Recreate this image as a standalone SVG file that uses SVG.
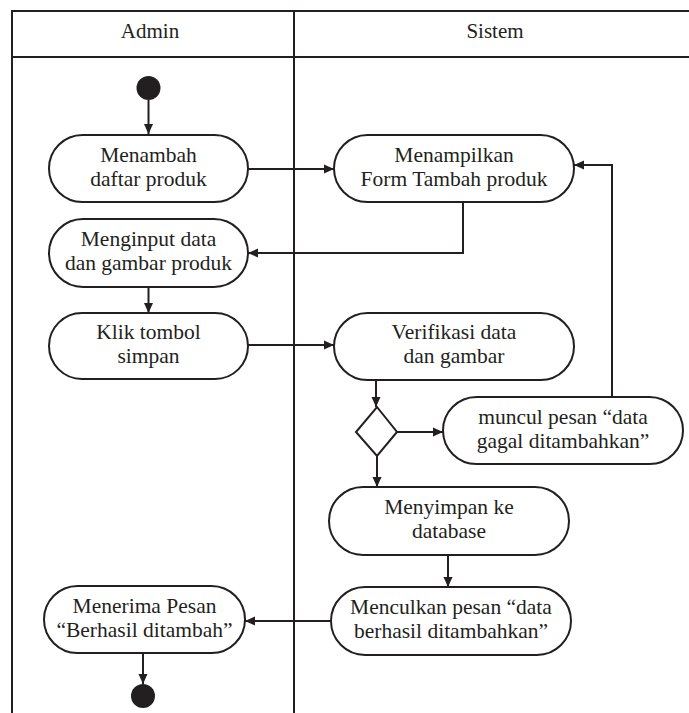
<svg xmlns="http://www.w3.org/2000/svg" width="689" height="713" viewBox="0 0 689 713">
<style>
.frame{fill:none;stroke:#231f20;stroke-width:2}
.act{fill:#fff;stroke:#231f20;stroke-width:2}
.t{font-size:21.5px;fill:#231f20;text-anchor:middle}
.h{font-size:21px;fill:#231f20;text-anchor:middle}
.c{fill:none;stroke:#231f20;stroke-width:2}
.dot{fill:#231f20}
</style>
<defs>
<marker id="ah" viewBox="0 0 10 10" refX="10" refY="5" markerWidth="10" markerHeight="10" markerUnits="userSpaceOnUse" orient="auto">
<path d="M0,0.5 L10,5 L0,9.5 Z" fill="#231f20"/>
</marker>
</defs>
<rect width="689" height="713" fill="#fff"/>
<g font-family="'Liberation Serif', Tinos, 'Times New Roman', Times, 'DejaVu Serif', serif">
<g id="swimlanes">
<path class="frame" d="M12,713 V11 H689 M12,57 H689 M294,11 V713"/>
<text class="h" x="150" y="38">Admin</text>
<text class="h" x="495" y="38">Sistem</text>
</g>
<g id="connectors">
<path class="c" d="M148.5,100 V134" marker-end="url(#ah)"/>
<path class="c" d="M248,169 H334" marker-end="url(#ah)"/>
<path class="c" d="M463,202 V253 H248" marker-end="url(#ah)"/>
<path class="c" d="M148.5,287 V313" marker-end="url(#ah)"/>
<path class="c" d="M248,345 H334" marker-end="url(#ah)"/>
<path class="c" d="M376,380 V407" marker-end="url(#ah)"/>
<path class="c" d="M397,432 H443" marker-end="url(#ah)"/>
<path class="c" d="M612,397 V165 H574" marker-end="url(#ah)"/>
<path class="c" d="M377,456 V487" marker-end="url(#ah)"/>
<path class="c" d="M448,555 V587" marker-end="url(#ah)"/>
<path class="c" d="M331,621 H245" marker-end="url(#ah)"/>
<path class="c" d="M143,653 V684" marker-end="url(#ah)"/>
</g>
<g id="start"><circle class="dot" cx="148.5" cy="88" r="12"/></g>
<g id="n1"><rect class="act" x="49" y="135" width="199" height="67" rx="33.5"/>
<text class="t" x="148.5" y="162">Menambah</text><text class="t" x="148.5" y="186">daftar produk</text></g>
<g id="n2"><rect class="act" x="334" y="135" width="240" height="67" rx="33.5"/>
<text class="t" x="454" y="162">Menampilkan</text><text class="t" x="454" y="186">Form Tambah produk</text></g>
<g id="n3"><rect class="act" x="49" y="219" width="199" height="68" rx="34"/>
<text class="t" x="148.5" y="246">Menginput data</text><text class="t" x="148.5" y="270">dan gambar produk</text></g>
<g id="n4"><rect class="act" x="49" y="313" width="199" height="66" rx="33"/>
<text class="t" x="148.5" y="339">Klik tombol</text><text class="t" x="148.5" y="363">simpan</text></g>
<g id="n5"><rect class="act" x="334" y="313" width="240" height="67" rx="33.5"/>
<text class="t" x="454" y="339">Verifikasi data</text><text class="t" x="454" y="363">dan gambar</text></g>
<g id="decision"><path class="act" d="M377,407 L397,432 L377,456 L356,432 Z"/></g>
<g id="n6"><rect class="act" x="443" y="397" width="240" height="67" rx="33.5"/>
<text class="t" x="563" y="424">muncul pesan “data</text><text class="t" x="563" y="448">gagal ditambahkan”</text></g>
<g id="n7"><rect class="act" x="329" y="487" width="240" height="68" rx="34"/>
<text class="t" x="449" y="514">Menyimpan ke</text><text class="t" x="449" y="538">database</text></g>
<g id="n8"><rect class="act" x="331" y="587" width="240" height="68" rx="34"/>
<text class="t" x="451" y="614">Menculkan pesan “data</text><text class="t" x="451" y="638">berhasil ditambahkan”</text></g>
<g id="n9"><rect class="act" x="44" y="586" width="201" height="67" rx="33.5"/>
<text class="t" x="144.5" y="613">Menerima Pesan</text><text class="t" x="144.5" y="637">“Berhasil ditambah”</text></g>
<g id="end"><circle class="dot" cx="143" cy="696" r="12"/></g>
</g>
</svg>
